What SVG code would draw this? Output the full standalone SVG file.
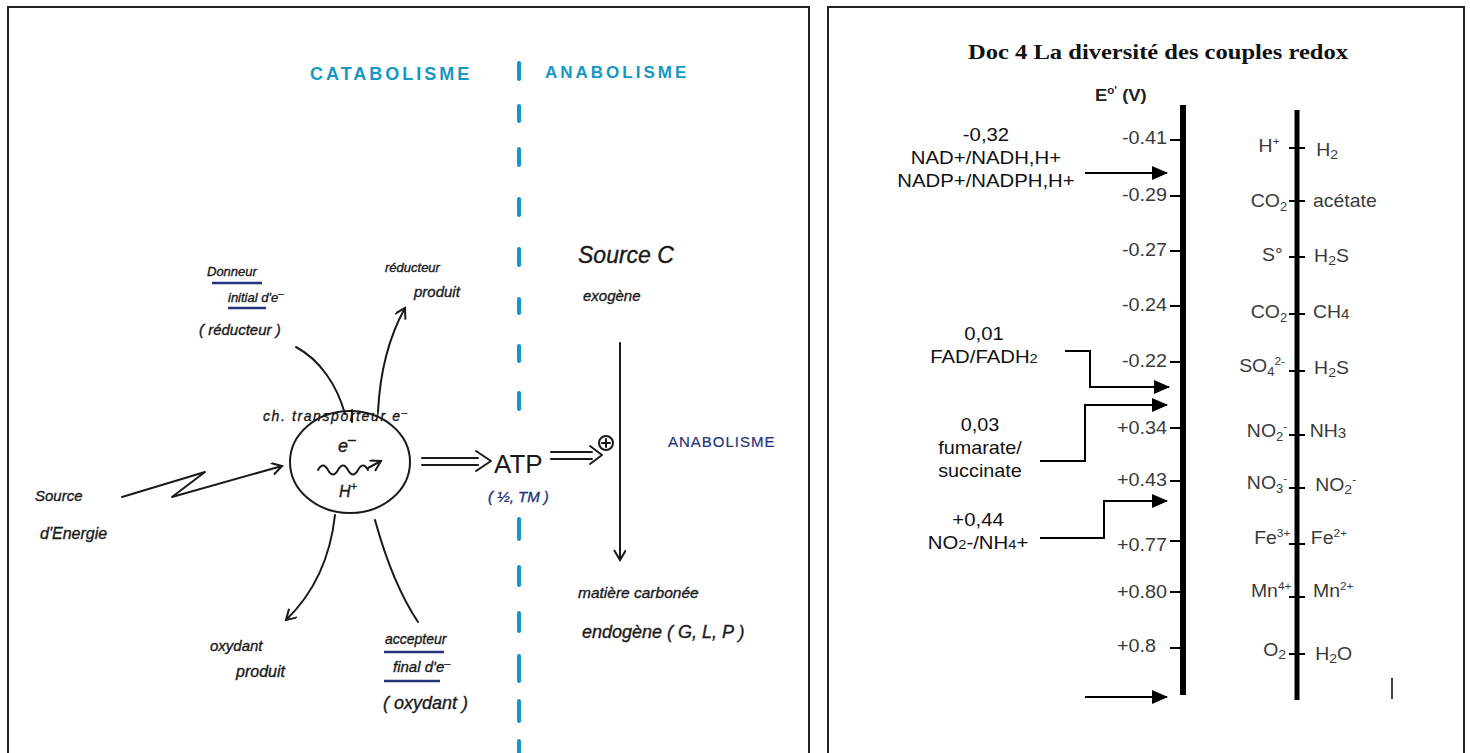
<svg xmlns="http://www.w3.org/2000/svg" width="1470" height="753" viewBox="0 0 1470 753">
<defs>
<style>
.hw{font-family:"Liberation Sans","DejaVu Sans",sans-serif;font-style:italic;fill:#1a1a1a;stroke:#1a1a1a;stroke-width:0.35}
.cy{font-family:"Liberation Sans",sans-serif;fill:#1497c4;font-weight:bold;letter-spacing:3px}
.nv{fill:#26327a;stroke:#26327a}
.ink{fill:none;stroke:#1a1a1a;stroke-width:2;stroke-linecap:round;stroke-linejoin:round}
.ul{stroke:#26327a;stroke-width:2.5;fill:none}
.rt{font-family:"Liberation Sans","Arial",sans-serif;font-size:18px;fill:#111}
.tk{font-family:"Liberation Sans","Arial",sans-serif;font-size:18px;fill:#3a3a3a}
.ax{stroke:#000;fill:none}
.tick{stroke:#000;stroke-width:2}
.ar{stroke:#000;stroke-width:2;fill:none}
.dash{stroke:#1497c4;stroke-width:4;stroke-linecap:round}
</style>
<marker id="open" markerUnits="userSpaceOnUse" markerWidth="14" markerHeight="14" refX="11" refY="6" orient="auto"><path d="M1,0 L11,6 L1,12" fill="none" stroke="#1a1a1a" stroke-width="2"/></marker>
<marker id="tri" markerUnits="userSpaceOnUse" markerWidth="16" markerHeight="14" refX="15" refY="7" orient="auto"><path d="M0,0 L16,7 L0,14 z" fill="#000"/></marker>
</defs>
<rect width="1470" height="753" fill="#fff"/>

<!-- LEFT PANEL -->
<rect x="8" y="7" width="801" height="760" fill="none" stroke="#222" stroke-width="2"/>
<g id="titles-left">
<text class="cy" x="310" y="80" font-size="18">CATABOLISME</text>
<text class="cy" x="545" y="78" font-size="17">ANABOLISME</text>
</g>
<path id="separator" class="dash" d="M519,63 V79 M519,106 V121 M519,149 V165 M519,199 V215 M519,249 V265 M519,299 V313 M519,346 V361 M519,393 V409 M519,519 V539 M519,567 V585 M519,613 V631 M519,656 V681 M519,701 V721 M519,741 V753"/>

<g id="connectors-left">
<path class="ink" d="M296,347 C320,360 337,385 345,414"/>
<path class="ink" d="M378,412 C380,370 390,335 405,308" marker-end="url(#open)"/>
<path class="ink" d="M122,497 L205,472 L172,497 L282,466" marker-end="url(#open)"/>
<path class="ink" d="M335,515 C330,560 312,595 286,620" marker-end="url(#open)"/>
<path class="ink" d="M375,520 C386,560 400,595 418,622"/>
<path class="ink" d="M422,458 H478 M422,465 H478 M476,451 L491,461 L476,471"/>
<path class="ink" d="M551,452 H592 M551,459 H592 M590,446 L602,455 L590,464"/>
<path class="ink" d="M620,343 V560" marker-end="url(#open)"/>
</g>

<g id="node-chaine">
<ellipse class="ink" cx="350" cy="462" rx="60" ry="51"/>
<text class="hw" x="263" y="421" font-size="14" letter-spacing="1.6">ch. transporteur e<tspan dy="-5" font-size="10">–</tspan></text>
<line class="ink" x1="352" y1="410" x2="352" y2="422"/>
<text class="hw" x="338" y="452" font-size="18" font-style="normal">e<tspan dy="-8" font-size="14">–</tspan></text>
<path class="ink" d="M318,470 q5,-9 10,0 q5,9 10,0 q5,-9 10,0 q5,9 10,0 q5,-9 10,0" />
<path class="ink" d="M368,468 L381,461" marker-end="url(#open)"/>
<text class="hw" x="339" y="497" font-size="16" font-style="normal">H<tspan dy="-7" font-size="11">+</tspan></text>
</g>

<g id="node-donneur">
<text class="hw" x="207" y="276" font-size="13">Donneur</text>
<line class="ul" x1="212" y1="283" x2="262" y2="283"/>
<text class="hw" x="228" y="302" font-size="13">initial d'e<tspan dy="-5" font-size="10">–</tspan></text>
<line class="ul" x1="228" y1="308" x2="266" y2="308"/>
<text class="hw" x="199" y="335" font-size="15">( réducteur )</text>
</g>

<g id="node-reducteur-produit">
<text class="hw" x="385" y="272" font-size="13">réducteur</text>
<text class="hw" x="414" y="297" font-size="15">produit</text>
</g>

<g id="node-source-energie">
<text class="hw" x="35" y="501" font-size="15">Source</text>
<text class="hw" x="40" y="539" font-size="16">d'Energie</text>
</g>

<g id="node-oxydant-produit">
<text class="hw" x="210" y="651" font-size="15">oxydant</text>
<text class="hw" x="236" y="677" font-size="16">produit</text>
</g>

<g id="node-accepteur">
<text class="hw" x="385" y="644" font-size="14">accepteur</text>
<line class="ul" x1="384" y1="652" x2="444" y2="652"/>
<text class="hw" x="393" y="672" font-size="15">final d'e<tspan dy="-5" font-size="11">–</tspan></text>
<line class="ul" x1="384" y1="681" x2="440" y2="681"/>
<text class="hw" x="383" y="709" font-size="18">( oxydant )</text>
</g>

<g id="node-atp">
<text x="494" y="473" font-family="Liberation Sans,sans-serif" font-size="26" fill="#1a1a1a">ATP</text>
<text class="hw nv" x="488" y="502" font-size="15">( ½, TM )</text>
<circle class="ink" cx="606" cy="443" r="7" stroke-width="1.5"/>
<path class="ink" d="M606,439 V447 M602,443 H610" stroke-width="1.2"/>
</g>

<g id="node-source-c">
<text class="hw" x="578" y="263" font-size="23">Source C</text>
<text class="hw" x="583" y="301" font-size="15">exogène</text>
</g>

<g id="node-matiere">
<text class="hw" x="578" y="598" font-size="15.5">matière carbonée</text>
<text class="hw" x="582" y="638" font-size="18">endogène ( G, L, P )</text>
</g>

<g id="node-anabolisme">
<text class="nv" x="668" y="447" font-family="Liberation Sans,sans-serif" font-size="15" letter-spacing="1" stroke-width="0.2">ANABOLISME</text>
</g>

<!-- RIGHT PANEL -->
<rect x="828" y="7" width="636" height="760" fill="none" stroke="#222" stroke-width="2"/>
<text id="doc-title" x="1158" y="59" text-anchor="middle" font-family="Liberation Serif,serif" font-weight="bold" font-size="22" fill="#111" textLength="380" lengthAdjust="spacingAndGlyphs">Doc 4 La diversité des couples redox</text>

<g id="axis-e">
<text x="1095" y="101" font-family="Liberation Sans,sans-serif" font-size="16" font-weight="bold" fill="#222" transform="matrix(1.15,0,0,1,-164.25,0)">E<tspan dy="-7" font-size="10">o'</tspan><tspan dy="7"> (V)</tspan></text>
<line class="ax" x1="1183" y1="105" x2="1183" y2="695" stroke-width="6"/>
<g class="tk" text-anchor="end" transform="matrix(1.1,0,0,1,-116.7,0)">
<text x="1167" y="144">-0.41</text>
<text x="1167" y="201">-0.29</text>
<text x="1167" y="256">-0.27</text>
<text x="1167" y="311">-0.24</text>
<text x="1167" y="367">-0.22</text>
<text x="1167" y="434">+0.34</text>
<text x="1167" y="486">+0.43</text>
<text x="1167" y="551">+0.77</text>
<text x="1167" y="598">+0.80</text>
<text x="1157" y="652">+0.8</text>
</g>
<path class="tick" d="M1170,140 H1185 M1170,196 H1185 M1170,251 H1185 M1170,306 H1185 M1170,362 H1185 M1170,428 H1185 M1170,481 H1185 M1170,541 H1185 M1170,592 H1185 M1170,648 H1185"/>
</g>

<g id="axis-couples">
<line class="ax" x1="1297" y1="110" x2="1297" y2="700" stroke-width="5"/>
<path class="tick" d="M1289,148 H1305 M1289,201 H1305 M1289,257 H1305 M1289,314 H1305 M1289,371 H1305 M1289,435 H1305 M1289,488 H1305 M1289,544 H1305 M1289,597 H1305 M1289,654 H1305"/>
<g class="tk" text-anchor="end" transform="matrix(1.08,0,0,1,-102.8,0)">
<text x="1280" y="152">H<tspan dy="-7" font-size="11">+</tspan></text>
<text x="1287" y="207">CO<tspan dy="4" font-size="12">2</tspan></text>
<text x="1283" y="261">S°</text>
<text x="1287" y="318">CO<tspan dy="4" font-size="12">2</tspan></text>
<text x="1285" y="372">SO<tspan dy="4" font-size="12">4</tspan><tspan dy="-11" font-size="11">2-</tspan></text>
<text x="1287" y="437">NO<tspan dy="4" font-size="12">2</tspan><tspan dy="-11" font-size="11">-</tspan></text>
<text x="1287" y="489">NO<tspan dy="4" font-size="12">3</tspan><tspan dy="-11" font-size="11">-</tspan></text>
<text x="1290" y="544">Fe<tspan dy="-7" font-size="11">3+</tspan></text>
<text x="1291" y="597">Mn<tspan dy="-7" font-size="11">4+</tspan></text>
<text x="1286" y="656">O<tspan dy="3" font-size="13">2</tspan></text>
</g>
<g class="tk" transform="matrix(1.08,0,0,1,-105,0)">
<text x="1316" y="156">H<tspan dy="3" font-size="13">2</tspan></text>
<text x="1313" y="207">acétate</text>
<text x="1314" y="262">H<tspan dy="3" font-size="13">2</tspan><tspan dy="-3">S</tspan></text>
<text x="1313" y="318">CH<tspan dy="1" font-size="14">4</tspan></text>
<text x="1314" y="374">H<tspan dy="3" font-size="13">2</tspan><tspan dy="-3">S</tspan></text>
<text x="1310" y="437">NH<tspan dy="1" font-size="14">3</tspan></text>
<text x="1315" y="491">NO<tspan dy="3" font-size="13">2</tspan><tspan dy="-11" font-size="11">-</tspan></text>
<text x="1311" y="544">Fe<tspan dy="-7" font-size="11">2+</tspan></text>
<text x="1313" y="597">Mn<tspan dy="-7" font-size="11">2+</tspan></text>
<text x="1315" y="660">H<tspan dy="3" font-size="13">2</tspan><tspan dy="-3">O</tspan></text>
</g>
</g>

<g id="couple-nad" class="rt" text-anchor="middle" transform="matrix(1.13,0,0,1,-128.2,0)">
<text x="986" y="141">-0,32</text>
<text x="986" y="164">NAD+/NADH,H+</text>
<text x="986" y="187">NADP+/NADPH,H+</text>
</g>
<g id="couple-fad" class="rt" text-anchor="middle" transform="matrix(1.13,0,0,1,-127.9,0)">
<text x="984" y="340">0,01</text>
<text x="984" y="363">FAD/FADH<tspan font-size="13">2</tspan></text>
</g>
<g id="couple-fumarate" class="rt" text-anchor="middle" transform="matrix(1.1,0,0,1,-98,0)">
<text x="980" y="431">0,03</text>
<text x="980" y="454">fumarate/</text>
<text x="980" y="477">succinate</text>
</g>
<g id="couple-no2" class="rt" text-anchor="middle" transform="matrix(1.13,0,0,1,-127.1,0)">
<text x="978" y="526">+0,44</text>
<text x="978" y="549">NO<tspan font-size="13">2</tspan>-/NH<tspan font-size="13">4</tspan>+</text>
</g>

<g id="connectors-right">
<path class="ar" d="M1085,173 H1167" marker-end="url(#tri)"/>
<path class="ar" d="M1065,351 H1090 V387 H1169" marker-end="url(#tri)"/>
<path class="ar" d="M1040,461 H1085 V405 H1167" marker-end="url(#tri)"/>
<path class="ar" d="M1040,538 H1104 V501 H1167" marker-end="url(#tri)"/>
<path class="ar" d="M1085,697 H1167" marker-end="url(#tri)"/>
<line x1="1392" y1="678" x2="1392" y2="699" stroke="#000" stroke-width="1.5"/>
</g>
</svg>
